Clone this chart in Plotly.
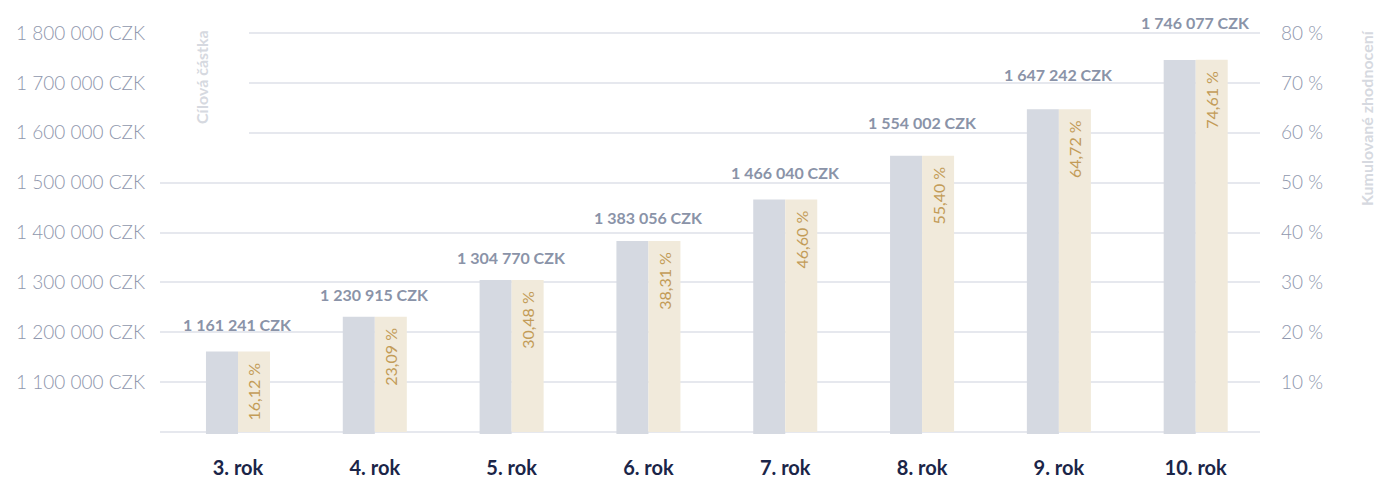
import plotly.graph_objects as go

categories = ["3. rok", "4. rok", "5. rok", "6. rok", "7. rok", "8. rok", "9. rok", "10. rok"]
target_amount = [1161241, 1230915, 1304770, 1383056, 1466040, 1554002, 1647242, 1746077]
cumulative_pct = [16.12, 23.09, 30.48, 38.31, 46.60, 55.40, 64.72, 74.61]

left_ticks = [1000000, 1100000, 1200000, 1300000, 1400000, 1500000, 1600000, 1700000, 1800000]
right_ticks = [0, 10, 20, 30, 40, 50, 60, 70, 80]

# vertical pixel offsets of the amount labels above the bars
label_offsets_px = [27, 22, 22, 23, 27, 33, 35, 37]


def fmt_czk(v):
    return f"{v:,}".replace(",", " ") + " CZK"


def fmt_pct(v):
    return f"{v:.2f}".replace(".", ",") + " %"


FONT = "Lato"
GRID = "#e6e8ee"
TICK_COLOR = "#8f97ad"

# plot area geometry (pixels)
L, R, T, B = 160, 1260, 28, 434
W, H = R - L, B - T

fig = go.Figure()
bw = 0.234
fig.add_trace(go.Bar(
    x=categories, y=target_amount, yaxis="y", width=bw, offset=-bw,
    marker=dict(color="#d5d9e1", line=dict(width=0)),
    hoverinfo="skip", showlegend=False,
))
fig.add_trace(go.Bar(
    x=categories, y=cumulative_pct, yaxis="y2", width=bw, offset=0,
    marker=dict(color="#f1eadb", line=dict(width=0)),
    text=[fmt_pct(v) + "\u00a0\u00a0" for v in cumulative_pct],
    textposition="inside", insidetextanchor="end", textangle=-90,
    textfont=dict(family=FONT, size=16, color="#c39c58"),
    constraintext="none",
    hoverinfo="skip", showlegend=False,
))

annotations = []
for c, v, off in zip(categories, target_amount, label_offsets_px):
    annotations.append(dict(
        x=c, y=v, xref="x", yref="y", text="<b>" + fmt_czk(v) + "</b>",
        showarrow=False, yanchor="middle", yshift=off,
        font=dict(family=FONT, size=16, color="#8a93a8"),
    ))
annotations.append(dict(
    x=(201 - L) / W, y=1 - (77 - T) / H, xref="paper", yref="paper",
    text="<b>Cílová částka</b>",
    textangle=-90, showarrow=False, xanchor="center", yanchor="middle",
    font=dict(family=FONT, size=16, color="#d6d9e0"),
))
annotations.append(dict(
    x=(1366 - L) / W, y=1 - (118 - T) / H, xref="paper", yref="paper",
    text="<b>Kumulované zhodnocení</b>",
    textangle=-90, showarrow=False, xanchor="center", yanchor="middle",
    font=dict(family=FONT, size=16, color="#d6d9e0"),
))

fig.update_layout(
    width=1375, height=478,
    margin=dict(l=L, r=1375 - R, t=T, b=478 - B),
    paper_bgcolor="white", plot_bgcolor="white",
    barmode="overlay",
    annotations=annotations,
    shapes=[dict(
        type="rect", xref="paper", yref="paper",
        x0=-0.002, x1=(249 - L) / W, y0=1 - (150 - T) / H, y1=1.05,
        fillcolor="white", line=dict(width=0), layer="above",
    )],
    xaxis=dict(
        type="category", range=[-0.57, 7.47], automargin=False,
        showgrid=False, zeroline=False, showline=False, ticks="",
        tickfont=dict(family=FONT, size=20, color="#1b2548", weight="bold"),
        ticklabelstandoff=20,
    ),
    yaxis=dict(
        range=[996000, 1810000], tickvals=left_ticks, automargin=False,
        ticktext=["" if t == 1000000 else fmt_czk(t) for t in left_ticks],
        showgrid=True, gridcolor=GRID, gridwidth=1.5, zeroline=False,
        showline=False, ticks="", layer="above traces",
        tickfont=dict(family=FONT, size=19, color=TICK_COLOR, weight=300),
        ticklabelstandoff=14,
    ),
    yaxis2=dict(
        range=[-0.4, 81], tickvals=right_ticks, automargin=False,
        ticktext=["" if t == 0 else f"{t} %" for t in right_ticks],
        overlaying="y", side="right", showgrid=False, zeroline=False,
        showline=False, ticks="",
        tickfont=dict(family=FONT, size=19, color=TICK_COLOR, weight=300),
        ticklabelstandoff=20,
    ),
)

fig.write_html("out.html", config={"displayModeBar": False},
               post_script="document.body.style.margin='0';")
